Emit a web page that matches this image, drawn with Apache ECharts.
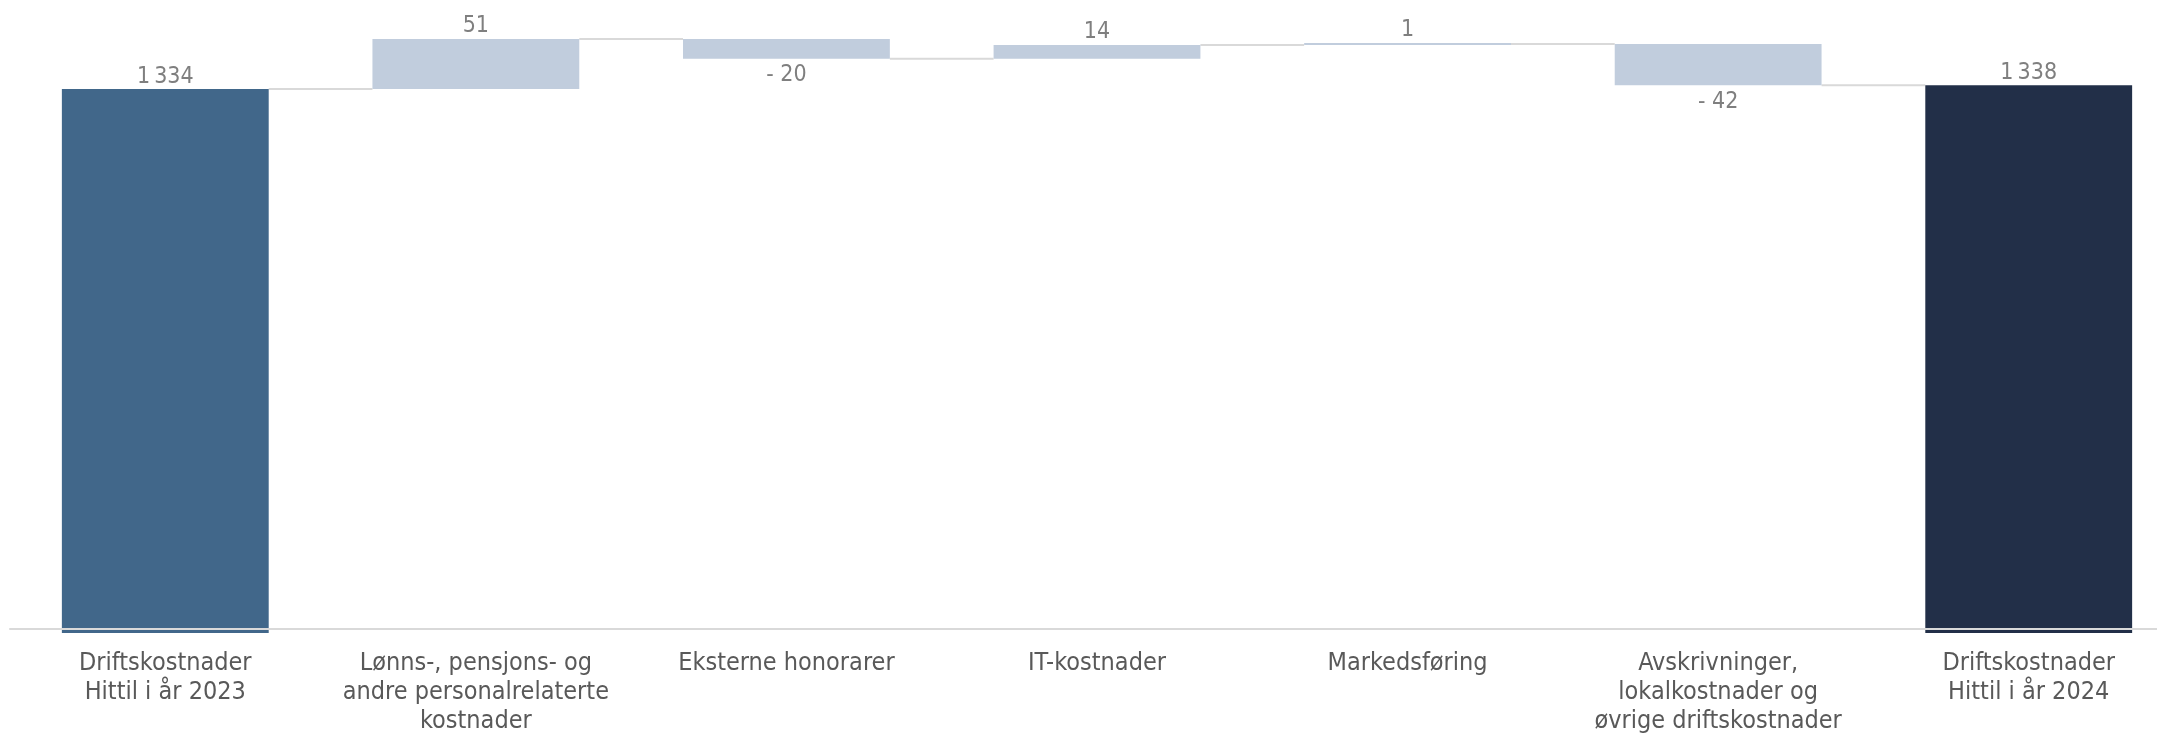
<!DOCTYPE html>
<html>
<head>
<meta charset="utf-8">
<script src="https://cdn.jsdelivr.net/npm/echarts@6/dist/echarts.min.js"></script>
<style>
html,body{margin:0;padding:0;background:#fff;}
#chart{width:2157px;height:733px;}
</style>
</head>
<body>
<div id="chart"></div>
<script>
const categories = [
  'Driftskostnader\nHittil i år 2023',
  'Lønns-, pensjons- og\nandre personalrelaterte\nkostnader',
  'Eksterne honorarer',
  'IT-kostnader',
  'Markedsføring',
  'Avskrivninger,\nlokalkostnader og\nøvrige driftskostnader',
  'Driftskostnader\nHittil i år 2024'
];
const values = [1334, 51, -20, 14, 1, -42, 1338];
const isTotal = [true, false, false, false, false, false, true];
const totalColors = ['#41678a', '#222f48'];
const deltaColor = '#c1cddd';

const FONT = "'Liberation Sans Narrow','DejaVu Sans Condensed','Roboto Condensed',sans-serif";

// build waterfall pieces
const baseData = [], barData = [], connectors = [];
let running = 0, totalIdx = 0;
values.forEach((v, i) => {
  let color, lo, hi;
  if (isTotal[i]) {
    lo = 0; hi = v; running = v;
    color = totalColors[totalIdx++];
  } else {
    const prev = running;
    running = prev + v;
    lo = Math.min(prev, running); hi = Math.max(prev, running);
    color = deltaColor;
  }
  baseData.push(lo);
  const neg = !isTotal[i] && v < 0;
  barData.push({
    value: hi - lo,
    raw: v,
    itemStyle: { color: color },
    label: { position: neg ? 'bottom' : 'top', distance: neg ? 5 : 1 }
  });
  if (i < values.length - 1) connectors.push([i, running]);
});

function fmt(v) {
  const s = Math.abs(v).toString().replace(/\B(?=(\d{3})+(?!\d))/g, '\u2009');
  return v < 0 ? '- ' + s : s;
}

const BAR_FRAC = 0.666;
const chart = echarts.init(document.getElementById('chart'), null, { renderer: 'canvas' });
chart.setOption({
  animation: false,
  grid: { left: 10, width: 2174, top: 39, bottom: 100, containLabel: false, outerBoundsMode: 'none' },
  xAxis: {
    type: 'category',
    data: categories,
    offset: -4,
    z: 10,
    axisLine: { show: true, lineStyle: { color: '#d9d9d9', width: 2 } },
    axisTick: { show: false },
    axisLabel: {
      interval: 0,
      margin: 20,
      color: '#595959',
      fontFamily: FONT,
      fontSize: 25,
      lineHeight: 29,
      align: 'center'
    }
  },
  yAxis: {
    type: 'value',
    min: 780,
    max: 1385,
    show: false,
    splitLine: { show: false }
  },
  series: [
    {
      type: 'bar',
      stack: 'w',
      barWidth: (BAR_FRAC * 100) + '%',
      itemStyle: { color: 'transparent' },
      data: baseData,
      silent: true
    },
    {
      type: 'bar',
      stack: 'w',
      barWidth: (BAR_FRAC * 100) + '%',
      barMinHeight: 2,
      data: barData,
      label: {
        show: true,
        color: '#7f7f7f',
        fontFamily: FONT,
        fontSize: 23,
        formatter: p => fmt(p.data.raw)
      }
    },
    {
      type: 'custom',
      z: 1,
      data: connectors,
      renderItem: function (params, api) {
        const p = api.coord([api.value(0), api.value(1)]);
        const band = api.size([1, 0])[0];
        const half = band * BAR_FRAC / 2;
        return {
          type: 'line',
          shape: { x1: p[0] + half, y1: p[1], x2: p[0] + band - half, y2: p[1] },
          style: { stroke: '#d9d9d9', lineWidth: 2 }
        };
      }
    }
  ]
});
</script>
</body>
</html>
